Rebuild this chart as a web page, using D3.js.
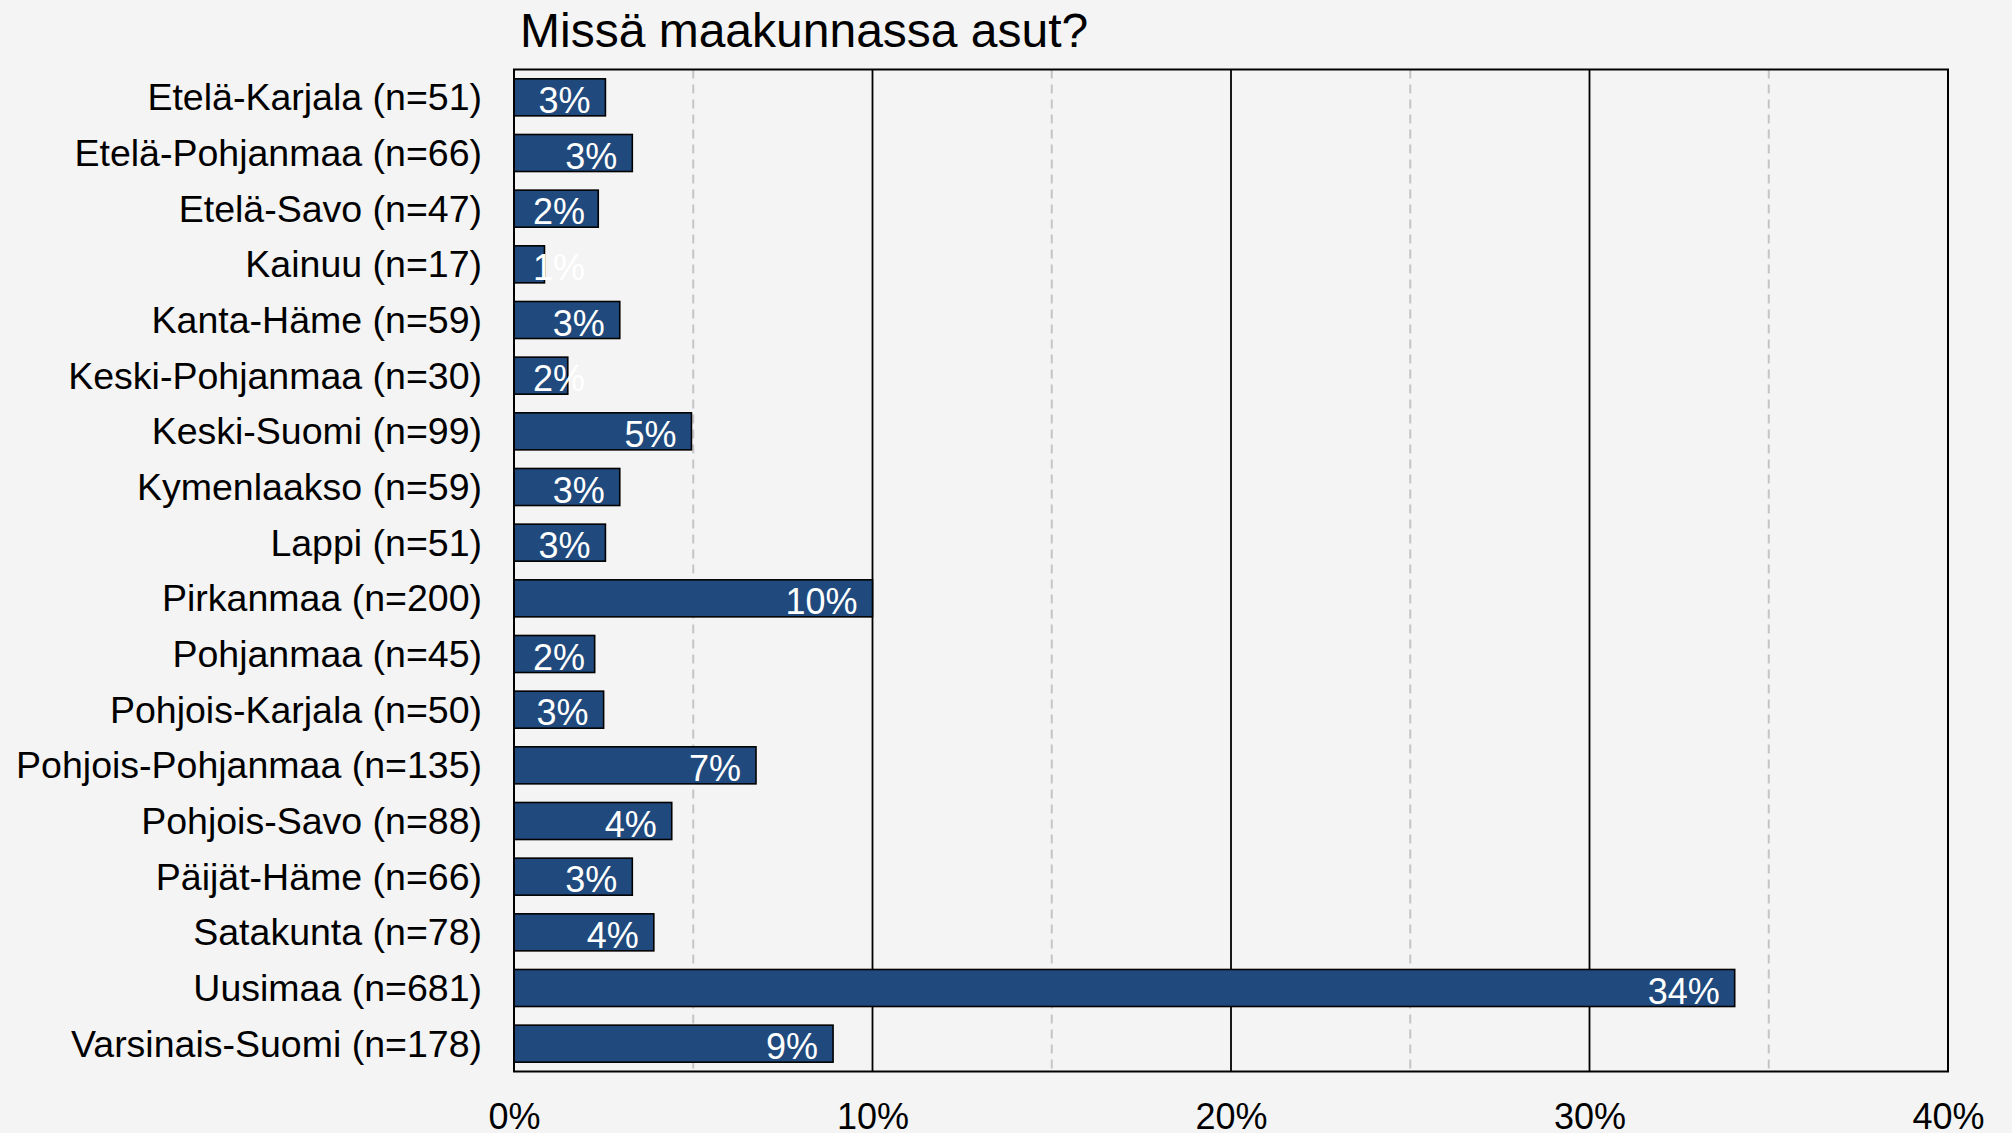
<!DOCTYPE html>
<html><head><meta charset="utf-8">
<script src="https://cdn.jsdelivr.net/npm/d3@7"></script>
<style>
html,body{margin:0;padding:0;background:#f4f4f4;}
svg{display:block;font-family:"Liberation Sans",Arial,sans-serif;}
</style></head>
<body>
<svg id="chart" width="2012" height="1133"></svg>
<script>
const title = "Missä maakunnassa asut?";
const categories = ["Etelä-Karjala (n=51)","Etelä-Pohjanmaa (n=66)","Etelä-Savo (n=47)","Kainuu (n=17)","Kanta-Häme (n=59)","Keski-Pohjanmaa (n=30)","Keski-Suomi (n=99)","Kymenlaakso (n=59)","Lappi (n=51)","Pirkanmaa (n=200)","Pohjanmaa (n=45)","Pohjois-Karjala (n=50)","Pohjois-Pohjanmaa (n=135)","Pohjois-Savo (n=88)","Päijät-Häme (n=66)","Satakunta (n=78)","Uusimaa (n=681)","Varsinais-Suomi (n=178)"];
const values = [2.55,3.3,2.35,0.85,2.95,1.5,4.95,2.95,2.55,10,2.25,2.5,6.75,4.4,3.3,3.9,34.05,8.9];
const valueLabels = ["3%","3%","2%","1%","3%","2%","5%","3%","3%","10%","2%","3%","7%","4%","3%","4%","34%","9%"];
const majorTicks = [0,10,20,30,40];
const minorTicks = [5,15,25,35];

const svg = d3.select("#chart");
const L = 514, R = 1948, T = 69.5, B = 1071.5;

const x = d3.scaleLinear().domain([0,40]).range([L,R]);
const y = d3.scaleBand().domain(categories).range([T,B]).paddingInner(0.335).paddingOuter(0.1675);

svg.append("rect").attr("width",2012).attr("height",1133).attr("fill","#f4f4f4");

// minor dashed gridlines
svg.append("g").selectAll("line").data(minorTicks).join("line")
  .attr("x1",d=>x(d)).attr("x2",d=>x(d)).attr("y1",T).attr("y2",B)
  .attr("stroke","#c4c4c4").attr("stroke-width",2).attr("stroke-dasharray","9,6");
// major solid gridlines
svg.append("g").selectAll("line").data(majorTicks.slice(1,-1)).join("line")
  .attr("x1",d=>x(d)).attr("x2",d=>x(d)).attr("y1",T).attr("y2",B)
  .attr("stroke","#000").attr("stroke-width",1.8);

// bars
const data = categories.map((c,i)=>({c, v:values[i], lab:valueLabels[i]}));
svg.append("g").selectAll("rect").data(data).join("rect")
  .attr("x",x(0)).attr("y",d=>y(d.c)).attr("width",d=>x(d.v)-x(0)).attr("height",y.bandwidth())
  .attr("fill","#204a7d").attr("stroke","#000").attr("stroke-width",1.6);

// value labels
svg.append("g").selectAll("text").data(data).join("text")
  .attr("x",d=>Math.max(x(d.v)-15, x(0)+71))
  .attr("y",d=>y(d.c)+y.bandwidth()/2+15.5)
  .attr("text-anchor","end").attr("fill","#fff").attr("font-size",36)
  .text(d=>d.lab);

// plot border
svg.append("rect").attr("x",L).attr("y",T).attr("width",R-L).attr("height",B-T)
  .attr("fill","none").attr("stroke","#000").attr("stroke-width",2);

// category axis
const yAxis = svg.append("g").attr("transform",`translate(${L},0)`)
  .call(d3.axisLeft(y).tickSize(0).tickPadding(32));
yAxis.select(".domain").remove();
yAxis.selectAll("text").attr("font-size",37.5).attr("fill","#000")
  .attr("font-family","'Liberation Sans',Arial,sans-serif").attr("dy",null)
  .attr("y",13);

// value axis
const xAxis = svg.append("g").attr("transform",`translate(0,${B})`)
  .call(d3.axisBottom(x).tickValues(majorTicks).tickSize(0).tickFormat(d=>d+"%").tickPadding(0));
xAxis.select(".domain").remove();
xAxis.selectAll("text").attr("font-size",36).attr("fill","#000")
  .attr("font-family","'Liberation Sans',Arial,sans-serif").attr("dy",null).attr("y",57);

// title
svg.append("text").attr("x",520).attr("y",47).attr("font-size",48).attr("fill","#000").text(title);
</script>
</body></html>
